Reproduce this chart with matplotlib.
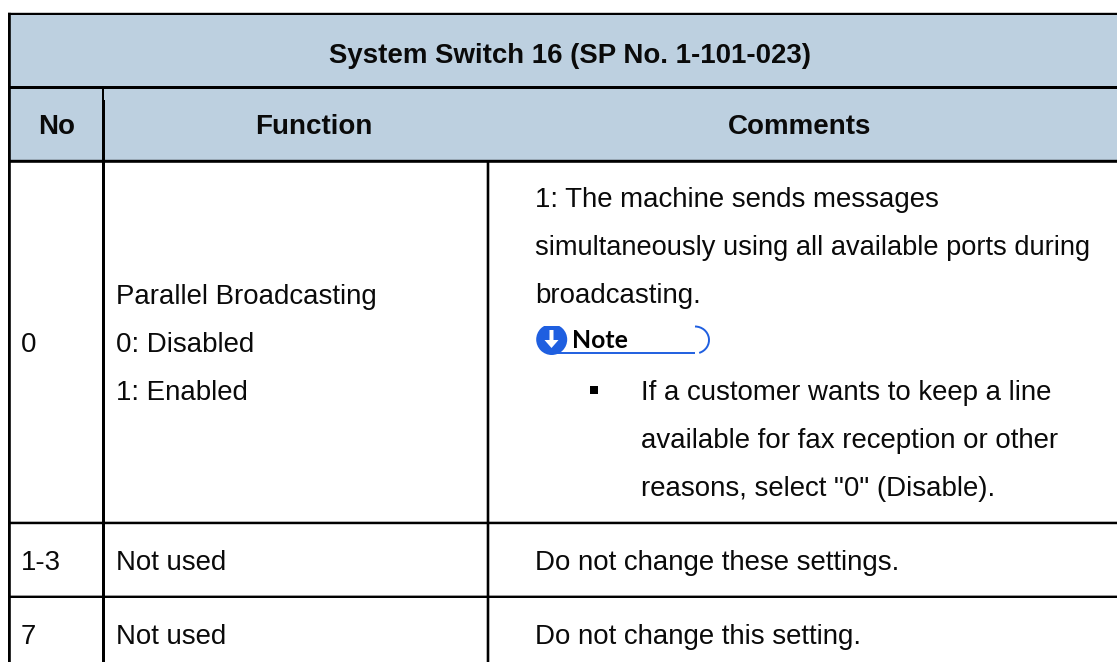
import matplotlib
matplotlib.use("Agg")
import matplotlib.pyplot as plt
from matplotlib.patches import Rectangle, Circle, Arc, Polygon

title = "System Switch 16 (SP No. 1-101-023)"
headers = ["No", "Function", "Comments"]
row_no = ["0", "1-3", "7"]
func_lines = ["Parallel Broadcasting", "0: Disabled", "1: Enabled"]
comment_lines = ["1: The machine sends messages",
                 "simultaneously using all available ports during",
                 "broadcasting."]
note_label = "Note"
bullet_lines = ["If a customer wants to keep a line",
                "available for fax reception or other",
                'reasons, select "0" (Disable).']
row_func = ["Not used", "Not used"]
row_comment = ["Do not change these settings.", "Do not change this setting."]

W, H = 1117, 662
HEADER = "#bdd0e0"
FS = 19.9
FSB = 20.0
plt.rcParams['font.family'] = ['Liberation Sans', 'DejaVu Sans']
fig = plt.figure(figsize=(W/100, H/100), dpi=100)
ax = fig.add_axes([0, 0, 1, 1])
ax.set_xlim(0, W); ax.set_ylim(H, 0); ax.axis('off')

def rect(x0, y0, x1, y1, c='black', z=3):
    p = Rectangle((x0, y0), x1-x0, y1-y0, fc=c, ec='none', lw=0, zorder=z)
    p.set_snap(False)
    ax.add_patch(p)

rect(9, 14, W, 161, HEADER, 1)
# horizontal rules
rect(8, 12.8, W, 15)
rect(8, 86, W, 89)
rect(8, 159.8, W, 162.8)
rect(8, 521.7, W, 524.2)
rect(8, 595.6, W, 598)
# vertical rules
rect(8, 12.8, 10.8, H)
rect(102, 88, 104, 100)
rect(102, 100, 105, H)
rect(486.7, 162, 489.3, H)

def txt(x, y, s, **k):
    ax.text(x, y, s, fontsize=k.pop('fs', FS), va='center_baseline', color='#0a0a0a', **k)

txt(570, 53, title, ha='center', fontweight='bold', fs=19.9)
txt(56.5, 124, headers[0], ha='center', fontweight='bold', fs=FSB)
txt(313.5, 124, headers[1], ha='center', fontweight='bold', fs=FSB)
txt(800, 124, headers[2], ha='center', fontweight='bold', fs=FSB)

for y, s in zip([294, 342, 390], func_lines):
    txt(116, y, s)
txt(21, 342, row_no[0])
for y, s, fs in zip([197, 245, 293], comment_lines, [FS, 19.65, FS]):
    txt(535, y, s, fs=fs)
for y, s in zip([390, 438, 486], bullet_lines):
    txt(641, y, s)
rect(590, 386, 598, 394)

# Note marker
BLUE = '#1f5fe0'
ax.plot([555, 695], [353.2, 353.2], color=BLUE, lw=1.4, zorder=2, solid_capstyle='butt')
ax.add_patch(Arc((695, 340), 28, 27, theta1=-90, theta2=72, color=BLUE, lw=1.4, zorder=2))
ax.add_patch(Circle((551.7, 339.5), 15.5, fc=BLUE, ec='none', zorder=3))
rect(530, 320, 575, 326, 'white', 4)
ax.add_patch(Polygon([(549.5, 330), (553.5, 330), (553.5, 340), (558.5, 340),
                      (551.5, 348), (544.5, 340), (549.5, 340)], fc='white', ec='none', zorder=5))
ax.text(572, 339, note_label, fontsize=17.8, fontweight='bold', family=['Lato', 'DejaVu Sans'],
        va='center_baseline', color='black', zorder=5)

txt(21, 560, row_no[1]); txt(21, 634, row_no[2])
for y, f, c in zip([560, 634], row_func, row_comment):
    txt(116, y, f)
    txt(535, y, c)

fig.savefig('out.png', dpi=100)
